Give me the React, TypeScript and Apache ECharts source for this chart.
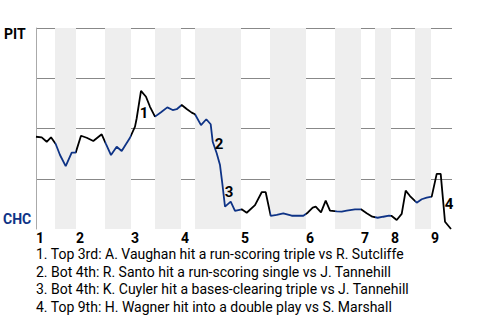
import React, { useEffect, useRef } from "react";
import * as echarts from "echarts";

// Game progress (x) and PIT win probability (%)
const progress = [0, 5.7, 10.7, 15, 19.7, 24, 29.7, 35.7, 39.7, 45, 50.7, 57.3, 65.7, 69.7, 75, 80.7, 85.7, 94, 99, 100.7, 105, 110, 114, 119, 125, 131.3, 136.7, 140.7, 145.7, 150.7, 155.7, 159, 165, 170.3, 174.7, 176.7, 180.7, 184, 186.3, 189, 194.7, 199, 205.7, 210.7, 219, 225.7, 229.7, 234.7, 240.7, 247.3, 255.7, 267.3, 271.7, 276.7, 279.7, 285, 289.7, 294, 300.7, 305.7, 310.7, 319, 325, 330.7, 336.3, 341.7, 347.3, 353, 355.7, 360.7, 365.7, 369.7, 374, 380.7, 385.7, 390.7, 395.7, 400.7, 404.7, 409, 415];
const pitWinPct = [45.9, 45.6, 43.4, 45.6, 42.3, 36.8, 31.3, 38.0, 38.0, 46.4, 45.4, 43.8, 47.1, 42.6, 36.8, 40.9, 38.8, 45.4, 50.9, 55.1, 68.7, 65.8, 60.8, 55.9, 58.1, 60.5, 59.2, 59.6, 61.7, 59.7, 57.9, 57.1, 51.7, 54.6, 52.1, 43.4, 37.7, 31.8, 22.7, 11.1, 13.6, 9.0, 9.8, 8.1, 11.9, 18.3, 18.3, 6.5, 7.0, 7.8, 6.6, 6.6, 8.1, 10.6, 11.1, 8.3, 14.1, 9.1, 8.8, 8.6, 9.1, 9.8, 9.8, 7.8, 6.1, 5.6, 6.1, 6.6, 6.5, 4.5, 7.5, 19.1, 16.4, 13.1, 14.8, 15.6, 16.1, 27.4, 27.4, 3.6, 0];

// Half-inning boundaries: bottom halves (CHC batting)
const bottomStart = [19, 69, 119, 159, 234, 299, 339, 379];
const bottomEnd = [40, 95, 145, 205, 270, 325, 355, 395];
const inningStart = [0, 40, 95, 145, 205, 270, 325, 355, 395];
const inningLabels = ["1", "2", "3", "4", "5", "6", "7", "8", "9"];
const gameEnd = 416;

// Key play annotations
const noteX = [108, 183, 193, 413];
const noteY = [57.7, 42.3, 18.4, 12.4];
const noteLabels = ["1", "2", "3", "4"];
const noteTexts = [
  "1. Top 3rd: A. Vaughan hit a run-scoring triple vs R. Sutcliffe",
  "2. Bot 4th: R. Santo hit a run-scoring single vs J. Tannehill",
  "3. Bot 4th: K. Cuyler hit a bases-clearing triple vs J. Tannehill",
  "4. Top 9th: H. Wagner hit into a double play vs S. Marshall",
];

const BLUE = "#0e3386";
const FONT = "Roboto, sans-serif";

export default function App() {
  const ref = useRef<HTMLDivElement>(null);
  useEffect(() => {
    if (!ref.current) return;
    document.body.style.margin = "0";
    const chart = echarts.init(ref.current, null, { renderer: "svg" });
    const lineData = progress.map((x, i) => [x, pitWinPct[i]]);
    const option: any = {
      animation: false,
      grid: { left: 36, right: 28, top: 28, bottom: 91 },
      xAxis: {
        type: "value",
        min: 0,
        max: gameEnd,
        axisLine: { show: false },
        axisTick: { show: false },
        splitLine: { show: false },
        axisLabel: {
          customValues: inningStart,
          formatter: (v: number) => inningLabels[inningStart.indexOf(v)] ?? "",
          align: "left",
          margin: 2,
          fontFamily: FONT,
          fontWeight: "bold",
          fontSize: 14,
          color: "#000",
          showMinLabel: true,
          showMaxLabel: true,
        },
      },
      yAxis: {
        type: "value",
        min: 0,
        max: 100,
        interval: 25,
        axisLabel: { show: false },
        axisTick: { show: false },
        axisLine: { show: true, lineStyle: { color: "#aaaaaa", width: 1 } },
        splitLine: {
          show: true,
          lineStyle: { color: ["rgba(0,0,0,0)", "#888888", "#888888", "#888888", "#888888"], width: 1 },
        },
      },
      visualMap: {
        show: false,
        type: "piecewise",
        dimension: 0,
        seriesIndex: 0,
        pieces: bottomStart.map((s, i) => ({ gte: s, lt: bottomEnd[i], color: BLUE })),
        outOfRange: { color: "#000000" },
      },
      series: [
        {
          type: "line",
          data: lineData,
          symbol: "none",
          lineStyle: { width: 1.8 },
          z: 5,
        },
        {
          type: "line",
          data: [],
          silent: true,
          z: 1,
          markArea: {
            silent: true,
            itemStyle: { color: "#eeeeee" },
            data: bottomStart.map((s, i) => [{ xAxis: s }, { xAxis: bottomEnd[i] }]),
          },
        },
        {
          type: "scatter",
          data: noteX.map((x, i) => [x, noteY[i], noteLabels[i]]),
          symbolSize: 1,
          itemStyle: { color: "rgba(0,0,0,0)" },
          z: 6,
          label: {
            show: true,
            position: "inside",
            formatter: (p: any) => p.value[2],
            fontFamily: FONT,
            fontWeight: "bold",
            fontSize: 15,
            color: "#000",
            textBorderWidth: 0,
            opacity: 1,
          },
        },
      ],
      graphic: [
        {
          type: "text",
          left: 4,
          top: 27,
          style: { text: "PIT", fontFamily: FONT, fontWeight: "bold", fontSize: 14, fill: "#000" },
        },
        {
          type: "text",
          left: 3,
          top: 212,
          style: { text: "CHC", fontFamily: FONT, fontWeight: "bold", fontSize: 14, fill: BLUE },
        },
        ...noteTexts.map((t, i) => ({
          type: "text",
          x: 36,
          y: 254 + i * 17.7,
          style: {
            text: t,
            fontFamily: FONT,
            fontSize: 14,
            fill: "#000",
            verticalAlign: "middle",
          },
        })),
      ],
    };
    chart.setOption(option);
    return () => chart.dispose();
  }, []);
  return <div ref={ref} style={{ width: 480, height: 320 }} />;
}
